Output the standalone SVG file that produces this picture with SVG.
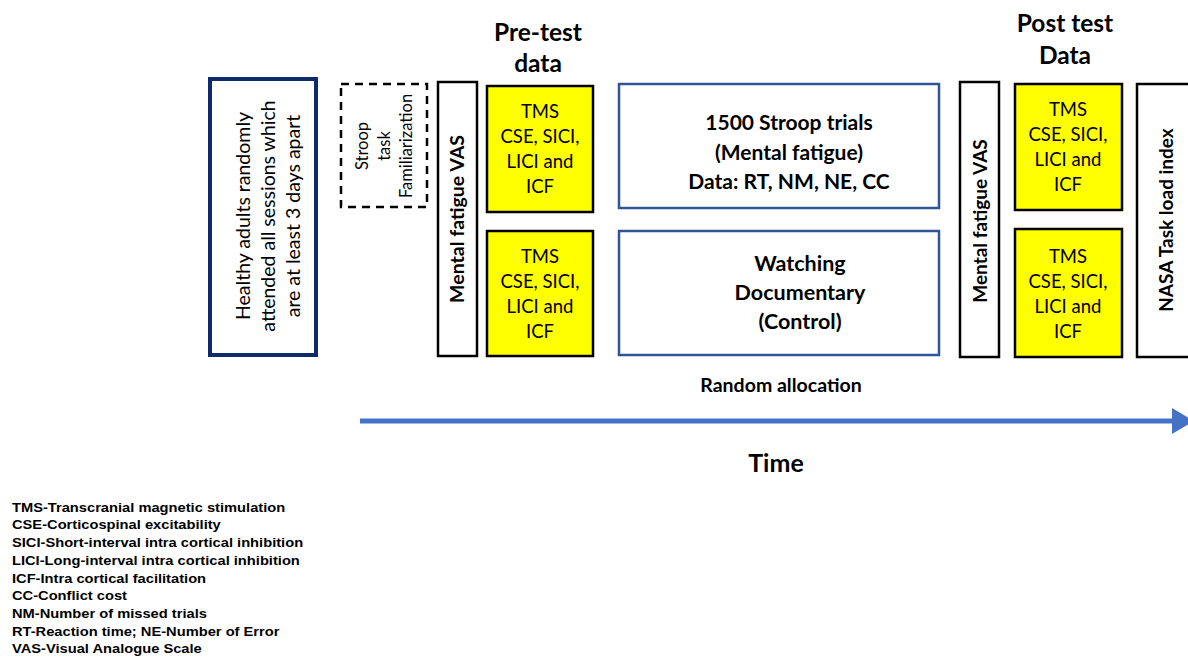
<svg xmlns="http://www.w3.org/2000/svg" width="1188" height="657" viewBox="0 0 1188 657">
<defs>
<style>
.c{font-family:Lato,"Open Sans","Liberation Sans",sans-serif;fill:#000;text-anchor:middle}
.b{font-weight:bold}
.t{font-size:18.5px}
.yb{fill:#ffff00;stroke:#000;stroke-width:2.5}
.wb{fill:#fff;stroke:#000;stroke-width:2.5}
.bb{fill:#fff;stroke:#2f5597;stroke-width:2.5}
.lg{font-family:"Liberation Sans",Arial,sans-serif;font-weight:bold;font-size:13px;fill:#000}
</style>
</defs>
<rect width="1188" height="657" fill="#fff"/>

<g id="headings">
<text class="c b" x="538" y="41" font-size="24.5">Pre-test</text>
<text class="c b" x="538" y="72" font-size="24.5">data</text>
<text class="c b" x="1065" y="32" font-size="24.5">Post test</text>
<text class="c b" x="1065" y="64" font-size="24.5">Data</text>
</g>

<g id="healthy">
<rect x="210" y="79" width="106" height="276" fill="#fff" stroke="#0f2b6b" stroke-width="4"/>
<g transform="translate(264,216) rotate(-90)">
<text class="c" x="0" y="-14" font-size="19.5">Healthy adults randomly</text>
<text class="c" x="0" y="11" font-size="19.5">attended all sessions which</text>
<text class="c" x="0" y="36" font-size="19.5">are at least 3 days apart</text>
</g>
</g>

<g id="stroop-familiarization">
<rect x="341" y="84" width="86" height="123" fill="#fff" stroke="#000" stroke-width="2.5" stroke-dasharray="8,6"/>
<g transform="translate(385,146) rotate(-90)">
<text class="c" x="0" y="-17" font-size="16.5">Stroop</text>
<text class="c" x="0" y="5" font-size="16.5">task</text>
<text class="c" x="0" y="27" font-size="16.5">Familiarization</text>
</g>
</g>

<g id="pre-vas">
<rect class="wb" x="438" y="82" width="39" height="274"/>
<text class="c b" font-size="19.5" transform="translate(464,219) rotate(-90)">Mental fatigue VAS</text>
</g>

<g id="pre-tms-1">
<rect class="yb" x="487" y="86" width="106" height="126"/>
<text class="c t" x="540" y="118">TMS</text>
<text class="c t" x="540" y="143">CSE, SICI,</text>
<text class="c t" x="540" y="168">LICI and</text>
<text class="c t" x="540" y="193">ICF</text>
</g>

<g id="pre-tms-2">
<rect class="yb" x="487" y="231" width="106" height="125"/>
<text class="c t" x="540" y="263">TMS</text>
<text class="c t" x="540" y="288">CSE, SICI,</text>
<text class="c t" x="540" y="313">LICI and</text>
<text class="c t" x="540" y="338">ICF</text>
</g>

<g id="stroop-trials">
<rect class="bb" x="619" y="84" width="320" height="124"/>
<text class="c b" x="789" y="130" font-size="21">1500 Stroop trials</text>
<text class="c b" x="789" y="160" font-size="21">(Mental fatigue)</text>
<text class="c b" x="789" y="189" font-size="21">Data: RT, NM, NE, CC</text>
</g>

<g id="documentary">
<rect class="bb" x="619" y="231" width="320" height="124"/>
<text class="c b" x="800" y="271" font-size="21.5">Watching</text>
<text class="c b" x="800" y="300" font-size="21.5">Documentary</text>
<text class="c b" x="800" y="329" font-size="21.5">(Control)</text>
</g>

<g id="post-vas">
<rect class="wb" x="960" y="82" width="39" height="275"/>
<text class="c b" font-size="19" transform="translate(987,221) rotate(-90)">Mental fatigue VAS</text>
</g>

<g id="post-tms-1">
<rect class="yb" x="1015" y="84" width="107" height="126"/>
<text class="c t" x="1068" y="116">TMS</text>
<text class="c t" x="1068" y="141">CSE, SICI,</text>
<text class="c t" x="1068" y="166">LICI and</text>
<text class="c t" x="1068" y="191">ICF</text>
</g>

<g id="post-tms-2">
<rect class="yb" x="1015" y="229" width="107" height="128"/>
<text class="c t" x="1068" y="263">TMS</text>
<text class="c t" x="1068" y="288">CSE, SICI,</text>
<text class="c t" x="1068" y="313">LICI and</text>
<text class="c t" x="1068" y="338">ICF</text>
</g>

<g id="nasa">
<rect class="wb" x="1137" y="84" width="60" height="273"/>
<text class="c b" font-size="19" transform="translate(1173,220) rotate(-90)">NASA Task load index</text>
</g>

<g id="connectors">
<line x1="360" y1="421" x2="1176" y2="421" stroke="#4472c4" stroke-width="5"/>
<path d="M1172,408L1194,421L1172,434z" fill="#4472c4"/>
</g>

<g id="labels">
<text class="c b" x="781" y="392" font-size="19.5">Random allocation</text>
<text class="c b" x="776" y="472" font-size="25">Time</text>
</g>

<g id="legend" transform="scale(1.13,1)">
<text class="lg" x="10.6" y="512">TMS-Transcranial magnetic stimulation</text>
<text class="lg" x="10.6" y="529">CSE-Corticospinal excitability</text>
<text class="lg" x="10.6" y="547">SICI-Short-interval intra cortical inhibition</text>
<text class="lg" x="10.6" y="565">LICI-Long-interval intra cortical inhibition</text>
<text class="lg" x="10.6" y="583">ICF-Intra cortical facilitation</text>
<text class="lg" x="10.6" y="600">CC-Conflict cost</text>
<text class="lg" x="10.6" y="618">NM-Number of missed trials</text>
<text class="lg" x="10.6" y="636">RT-Reaction time; NE-Number of Error</text>
<text class="lg" x="10.6" y="653">VAS-Visual Analogue Scale</text>
</g>
</svg>
